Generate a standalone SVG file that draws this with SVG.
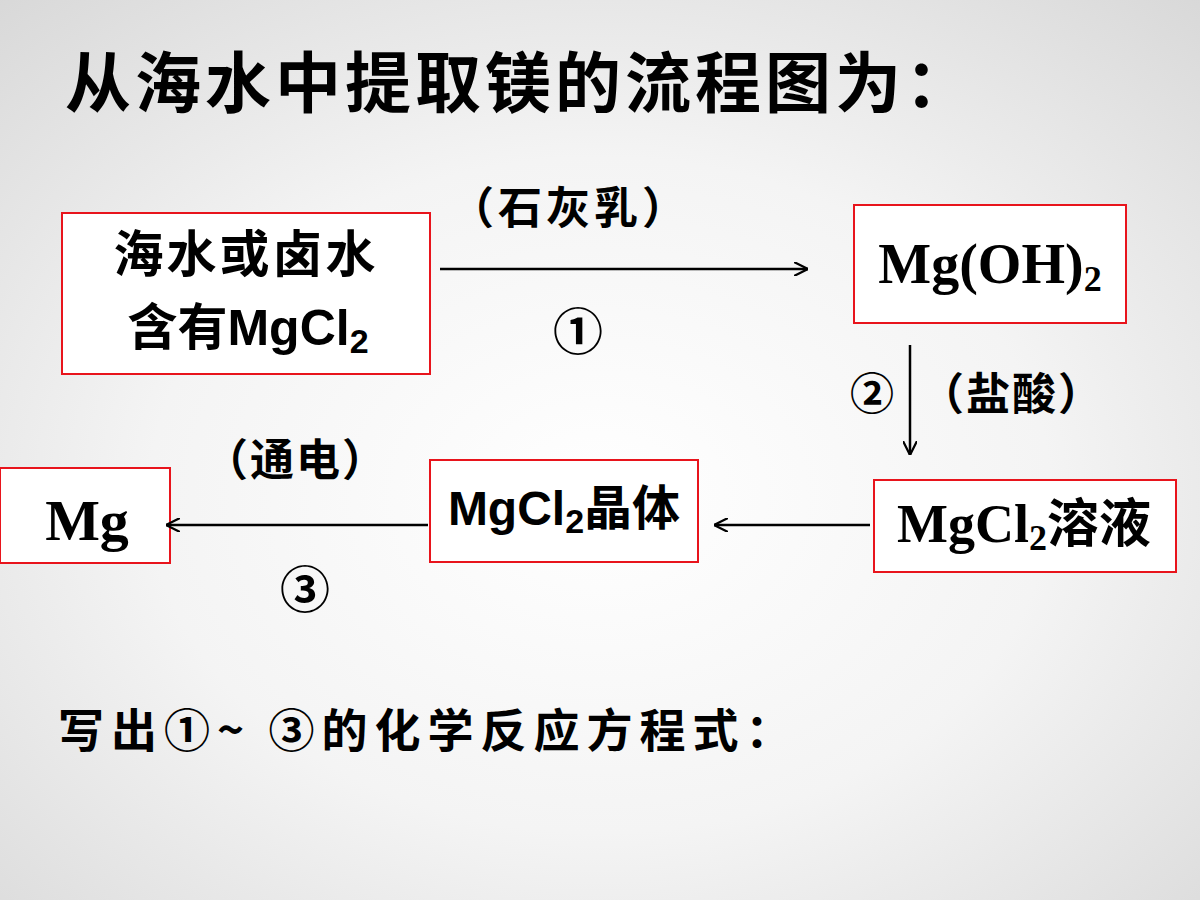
<svg xmlns="http://www.w3.org/2000/svg" width="1200" height="900" viewBox="0 0 1200 900">
<defs>
<radialGradient id="bg" cx="0.5" cy="0.55" r="0.75">
<stop offset="0" stop-color="#ffffff"/><stop offset="0.5" stop-color="#f4f4f4"/><stop offset="1" stop-color="#d8d8d8"/>
</radialGradient>
<marker id="ah" viewBox="0 0 10 10" refX="10" refY="5" markerWidth="14" markerHeight="14" orient="auto" markerUnits="userSpaceOnUse"><path d="M0,0 L10,5 L0,10" fill="none" stroke="#000" stroke-width="1.6"/></marker>
</defs>
<style>
.box{fill:#fff;stroke:#e8141c;stroke-width:2}
.c{font-family:"Noto Sans CJK SC","Liberation Serif",serif;font-weight:bold;fill:#000}
.t{font-family:"Liberation Serif","Noto Sans CJK SC",serif;font-weight:bold;fill:#000}
.a{font-family:"Liberation Sans","Noto Sans CJK SC",sans-serif;font-weight:bold;fill:#000}
.ln{stroke:#000;stroke-width:2.5;fill:none;marker-end:url(#ah)}
</style>
<rect width="1200" height="900" fill="url(#bg)"/>
<text class="c" x="65" y="107" font-size="66" letter-spacing="4">从海水中提取镁的流程图为：</text>
<g id="n1"><rect class="box" x="62" y="213" width="368" height="161"/>
<text class="c" x="246" y="272" font-size="50" text-anchor="middle" letter-spacing="3">海水或卤水</text>
<text x="248" y="345" text-anchor="middle"><tspan class="c" font-size="50">含有</tspan><tspan class="a" font-size="50">MgCl</tspan><tspan class="a" font-size="34" dy="8">2</tspan></text></g>
<g id="n2"><rect class="box" x="854" y="205" width="272" height="118"/>
<text x="990" y="283" text-anchor="middle" class="t" font-size="56">Mg(OH)<tspan font-size="36" dy="8">2</tspan></text></g>
<g id="n3"><rect class="box" x="874" y="480" width="302" height="92"/>
<text x="1024" y="542" text-anchor="middle"><tspan class="t" font-size="54">MgCl</tspan><tspan class="t" font-size="36" dy="8">2</tspan><tspan class="c" dy="-8" font-size="52">溶液</tspan></text></g>
<g id="n4"><rect class="box" x="430" y="460" width="268" height="102"/>
<text x="564" y="525" text-anchor="middle"><tspan class="a" font-size="48">MgCl</tspan><tspan class="a" font-size="34" dy="8">2</tspan><tspan class="c" dy="-8" font-size="48">晶体</tspan></text></g>
<g id="n5"><rect class="box" x="0" y="468" width="170" height="95"/>
<text x="87" y="540" text-anchor="middle" class="t" font-size="58">Mg</text></g>
<g id="edges">
<line class="ln" x1="440" y1="269" x2="808" y2="269"/>
<line class="ln" x1="910" y1="345" x2="910" y2="455"/>
<line class="ln" x1="870" y1="525" x2="714" y2="525"/>
<line class="ln" x1="428" y1="525" x2="166" y2="525"/>
<text class="c" x="570" y="224" font-size="44" text-anchor="middle" letter-spacing="4">（石灰乳）</text>
<text class="c" x="578" y="350" font-size="50" text-anchor="middle">①</text>
<text class="c" x="850" y="410" font-size="44">②</text>
<text class="c" x="1012" y="410" font-size="44" text-anchor="middle" letter-spacing="2">（盐酸）</text>
<text class="c" x="296" y="476" font-size="44" text-anchor="middle" letter-spacing="2">（通电）</text>
<text class="c" x="305" y="608" font-size="50" text-anchor="middle">③</text>
</g>
<text class="c" x="58" y="747" font-size="46" letter-spacing="7">写出①~ ③的化学反应方程式：</text>
</svg>
